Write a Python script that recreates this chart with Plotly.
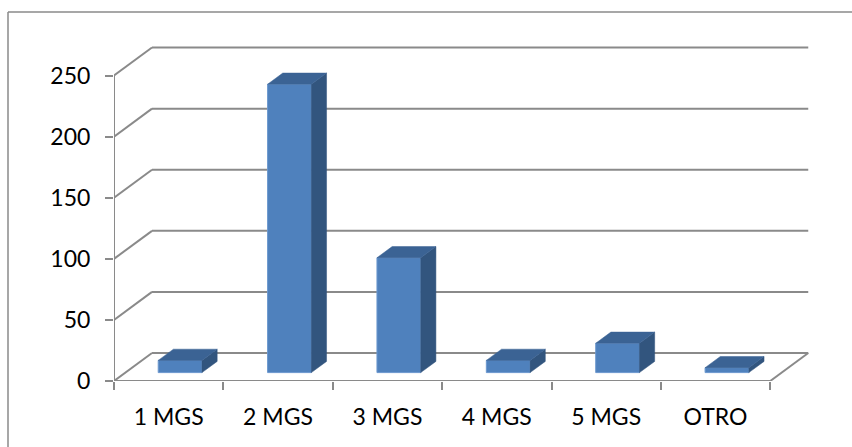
import plotly.graph_objects as go

categories = ["1 MGS", "2 MGS", "3 MGS", "4 MGS", "5 MGS", "OTRO"]
values = [10, 236, 94, 10, 24, 4]
y_ticks = [0, 50, 100, 150, 200, 250]

W, H = 852, 447
ML, MR, MT, MB = 114, 38, 45, 66
X_RANGE = [-0.5, 5.9]
Y_RANGE = [0, 275]
px_x = (W - ML - MR) / (X_RANGE[1] - X_RANGE[0])
px_y = (H - MT - MB) / (Y_RANGE[1] - Y_RANGE[0])
dX = 38 / px_x      # depth offset in x data units
dY = 28 / px_y      # depth offset in y data units
F, B = 0.3, 0.7     # bar depth span
HW = 0.2            # half bar width

GRID = "#8a8a8a"
FRONT = "#4F81BD"
TOP = "#3B6394"
SIDE = "#32557E"

n = len(categories)
xs = list(range(n))

fig = go.Figure()
fig.add_trace(go.Bar(
    x=[i + F * dX for i in xs], y=values, base=[F * dY] * n, width=2 * HW,
    marker=dict(color=FRONT, line=dict(color="#6C98CF", width=1)),
    hoverinfo="skip", showlegend=False,
))

shapes = []
def line(x0, y0, x1, y1, ref="x", w=2, layer="below"):
    shapes.append(dict(type="line", xref=ref, yref=ref.replace("x", "y"),
                       x0=x0, y0=y0, x1=x1, y1=y1, layer=layer,
                       line=dict(color=GRID, width=w)))

# walls and floor
x_left, x_right = -0.5, n - 0.5
line(x_left, 0, x_left, y_ticks[-1])
for v in y_ticks:
    line(x_left, v, x_left + dX, v + dY)
    line(x_left + dX, v + dY, x_right + dX, v + dY)
line(x_left, 0, x_right, 0)
line(x_right, 0, x_right + dX, dY)

# bar top and side faces
D = B - F
for i, v in zip(xs, values):
    x0 = i - HW + F * dX
    x1 = i + HW + F * dX
    y0 = F * dY
    y1 = v + F * dY
    top = (f"M {x0},{y1} L {x1},{y1} L {x1 + D*dX},{y1 + D*dY} "
           f"L {x0 + D*dX},{y1 + D*dY} Z")
    side = (f"M {x1},{y0} L {x1},{y1} L {x1 + D*dX},{y1 + D*dY} "
            f"L {x1 + D*dX},{y0 + D*dY} Z")
    shapes.append(dict(type="path", xref="x", yref="y", path=side, layer="above",
                       fillcolor=SIDE, line=dict(color=SIDE, width=0.5)))
    shapes.append(dict(type="path", xref="x", yref="y", path=top, layer="above",
                       fillcolor=TOP, line=dict(color=TOP, width=0.5)))

# outer chart border (top and left visible)
def paper_x(px):
    return (px - ML) / (W - ML - MR)
def paper_y(py):
    return (H - MB - py) / (H - MT - MB)
shapes.append(dict(type="line", xref="paper", yref="paper",
                   x0=paper_x(8), y0=paper_y(12), x1=paper_x(W + 2), y1=paper_y(12),
                   line=dict(color="#8a8a8a", width=1.5)))
shapes.append(dict(type="line", xref="paper", yref="paper",
                   x0=paper_x(8), y0=paper_y(12), x1=paper_x(8), y1=paper_y(H + 2),
                   line=dict(color="#8a8a8a", width=1.5)))

fig.update_layout(
    width=W, height=H,
    margin=dict(l=ML, r=MR, t=MT, b=MB, pad=0),
    paper_bgcolor="white", plot_bgcolor="white",
    shapes=shapes,
    font=dict(family="Lato", size=23, color="black"),
    xaxis=dict(range=X_RANGE, tickmode="array", tickvals=xs, ticktext=categories,
               ticks="", showgrid=False, showline=False, zeroline=False,
               ticklabelstandoff=20,
               minor=dict(tickmode="array", tickvals=[i - 0.5 for i in range(n + 1)],
                          ticks="outside", ticklen=8, tickwidth=2, tickcolor=GRID,
                          showgrid=False)),
    yaxis=dict(range=Y_RANGE, tickmode="array", tickvals=y_ticks,
               ticks="outside", ticklen=8, tickwidth=2, tickcolor=GRID,
               showgrid=False, showline=False, zeroline=False,
               ticklabelstandoff=10),
    showlegend=False,
)

fig.write_html("out.html")
